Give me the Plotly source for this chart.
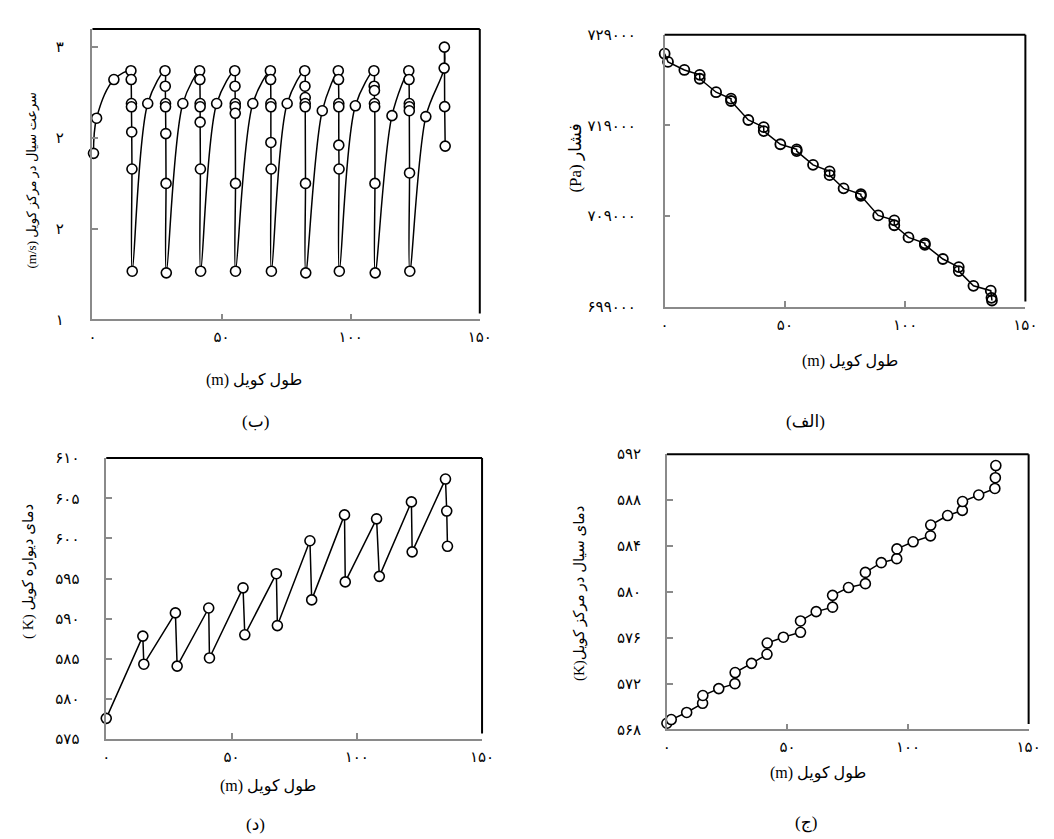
import plotly.graph_objects as go

# ---------------- data ----------------
# (ب) fluid velocity at coil centre (m/s)
vel_x = [0.4, 1.6, 8.3,
         14.9, 15.0, 15.1, 15.1, 15.2, 15.3, 15.4,
         21.4,
         28.1, 28.2, 28.3, 28.3, 28.4, 28.5, 28.6,
         35.0,
         41.5, 41.6, 41.7, 41.7, 41.7, 41.8, 41.9,
         48.1,
         55.1, 55.2, 55.3, 55.3, 55.3, 55.4, 55.4,
         62.1,
         68.9, 69.0, 69.1, 69.1, 69.1, 69.2, 69.3,
         75.4,
         82.2, 82.3, 82.4, 82.4, 82.4, 82.5, 82.6,
         89.0,
         95.2, 95.3, 95.4, 95.4, 95.4, 95.5, 95.6,
         101.8,
         109.0, 109.1, 109.2, 109.2, 109.3, 109.4, 109.5,
         116.0,
         122.5, 122.6, 122.7, 122.7, 122.7, 122.8, 122.9,
         129.1,
         136.2, 136.3, 136.4, 136.6]
vel_y = [2.22, 2.478, 2.762,
         2.827, 2.762, 2.586, 2.562, 2.377, 2.105, 1.354,
         2.586,
         2.827, 2.713, 2.586, 2.562, 2.365, 1.999, 1.342,
         2.586,
         2.827, 2.762, 2.586, 2.562, 2.449, 2.105, 1.354,
         2.586,
         2.827, 2.713, 2.586, 2.562, 2.514, 1.999, 1.354,
         2.586,
         2.827, 2.762, 2.586, 2.562, 2.300, 2.105, 1.354,
         2.586,
         2.827, 2.713, 2.630, 2.586, 2.562, 1.999, 1.342,
         2.533,
         2.827, 2.762, 2.586, 2.562, 2.280, 2.105, 1.354,
         2.569,
         2.827, 2.713, 2.682, 2.586, 2.562, 1.999, 1.342,
         2.497,
         2.827, 2.762, 2.586, 2.562, 2.533, 2.076, 1.354,
         2.490,
         2.846, 3.000, 2.563, 2.273]

# (الف) pressure (Pa)
pres_x = [0.0, 1.4, 8.2, 14.6, 14.6, 21.4, 27.6, 27.6, 34.8, 41.2, 41.2,
          48.1, 54.9, 54.9, 61.7, 68.6, 68.6, 74.4, 81.6, 81.6, 88.8,
          95.5, 95.5, 101.4, 108.2, 108.2, 115.7, 122.3, 122.3, 128.4,
          135.6, 135.9, 136.1]
pres_y = [726900, 726000, 725110, 724570, 724140, 722660, 721945, 721690,
          719600, 718810, 718380, 716930, 716360, 716180, 714660, 713950,
          713520, 712070, 711420, 711250, 709090, 708550, 708010, 706670,
          706020, 705850, 704290, 703400, 702960, 701340, 700800, 700015,
          699720]

# (د) coil wall temperature (K)
wall_x = [0.0, 14.6, 15.0, 27.6, 28.3, 40.9, 41.2, 54.6, 55.3, 67.9, 68.3,
          81.3, 82.0, 95.1, 95.4, 107.9, 109.0, 121.8, 122.1, 135.4, 135.9,
          136.2]
wall_y = [577.6, 587.84, 584.34, 590.73, 584.10, 591.34, 585.12, 593.85,
          588.0, 595.61, 589.15, 599.71, 592.35, 602.93, 594.59, 602.44,
          595.28, 604.55, 598.33, 607.39, 603.41, 599.02]

# (ج) fluid temperature at coil centre (K)
temp_x = [0.0, 1.8, 8.2, 14.8, 14.9, 21.5, 28.2, 28.3, 35.1, 41.5, 41.6,
          48.3, 55.4, 55.4, 61.9, 68.7, 68.7, 75.3, 82.3, 82.3, 88.9,
          95.3, 95.4, 102.1, 109.3, 109.4, 116.4, 122.5, 122.6, 129.3,
          136.0, 136.2, 136.4]
temp_y = [568.54, 568.86, 569.48, 570.28, 570.96, 571.56, 571.99, 572.96,
          573.76, 574.55, 575.53, 576.04, 576.47, 577.46, 578.27, 578.66,
          579.69, 580.37, 580.71, 581.69, 582.54, 582.89, 583.74, 584.36,
          584.88, 585.82, 586.65, 587.10, 587.87, 588.44, 589.01, 589.95,
          591.01]

x_tickvals = [0, 50, 100, 150]
x_ticktext = ['۰', '۵۰', '۱۰۰', '۱۵۰']
vel_tickvals = [1, 5 / 3, 7 / 3, 3]
vel_ticktext = ['۱', '۲', '۲', '۳']
pres_tickvals = [699000, 709000, 719000, 729000]
pres_ticktext = ['۶۹۹۰۰۰', '۷۰۹۰۰۰', '۷۱۹۰۰۰', '۷۲۹۰۰۰']
wall_tickvals = [575, 580, 585, 590, 595, 600, 605, 610]
wall_ticktext = ['۵۷۵', '۵۸۰', '۵۸۵', '۵۹۰', '۵۹۵', '۶۰۰', '۶۰۵', '۶۱۰']
temp_tickvals = [568, 572, 576, 580, 584, 588, 592]
temp_ticktext = ['۵۶۸', '۵۷۲', '۵۷۶', '۵۸۰', '۵۸۴', '۵۸۸', '۵۹۲']

x_title = 'طول کویل (m)'
vel_title = 'سرعت سیال در مرکز کویل (m/s)'
pres_title = 'فشار (Pa)'
wall_title = 'دمای دیواره کویل (K )'
temp_title = 'دمای سیال در مرکز کویل(K)'
captions = ['(ب)', '(الف)', '(د)', '(ج)']

# ---------------- figure ----------------
W, H = 1054, 839
FONT = 'Liberation Serif, DejaVu Sans, serif'
RLE, PDF = '\u202B', '\u202C'

def px(x):
    return x / W

def py(y):
    return 1 - y / H

fig = go.Figure()

filled = dict(symbol='circle', size=10, color='white',
              line=dict(color='black', width=1.6))

fig.add_trace(go.Scatter(x=vel_x, y=vel_y, mode='lines+markers',
                         line=dict(color='black', width=1.5, shape='spline', smoothing=1.0),
                         marker=filled, xaxis='x', yaxis='y', cliponaxis=False,
                         showlegend=False))
fig.add_trace(go.Scatter(x=pres_x, y=pres_y, mode='lines+markers',
                         line=dict(color='black', width=1.5),
                         marker=dict(symbol='circle-open', size=10, color='black',
                                     line=dict(width=1.8)),
                         xaxis='x2', yaxis='y2', cliponaxis=False, showlegend=False))
fig.add_trace(go.Scatter(x=wall_x, y=wall_y, mode='lines+markers',
                         line=dict(color='black', width=1.5),
                         marker=filled, xaxis='x3', yaxis='y3', cliponaxis=False,
                         showlegend=False))
fig.add_trace(go.Scatter(x=temp_x, y=temp_y, mode='lines+markers',
                         line=dict(color='black', width=1.5),
                         marker=filled, xaxis='x4', yaxis='y4', cliponaxis=False,
                         showlegend=False))

GRAY = '#8a8a8a'
TICKFONT = dict(family=FONT, size=15, color='black')

def xax(dom, anchor):
    return dict(domain=dom, anchor=anchor, range=[0, 150], tickvals=x_tickvals,
                ticktext=x_ticktext, showgrid=False, zeroline=False, showline=True,
                linecolor=GRAY, linewidth=1.5, ticks='inside', ticklen=6,
                tickwidth=1.5, tickcolor=GRAY, ticklabelstandoff=3,
                tickfont=TICKFONT)

def yax(dom, anchor, rng, tv, tt, standoff):
    return dict(domain=dom, anchor=anchor, range=rng, tickvals=tv, ticktext=tt,
                showgrid=False, zeroline=False, showline=True, linecolor=GRAY,
                linewidth=1.5, ticks='inside', ticklen=6, tickwidth=1.5,
                tickcolor=GRAY, ticklabelstandoff=standoff,
                tickfont=TICKFONT)

doms = {
    'b': ([px(81.7), px(475)], [py(309.3), py(13.3)]),
    'a': ([px(662.7), px(1029)], [py(296.7), py(19)]),
    'd': ([px(95.7), px(477.3)], [py(737.3), py(450.7)]),
    'j': ([px(665), px(1032.3)], [py(727.3), py(446.7)]),
}

fig.update_layout(
    width=W, height=H, margin=dict(l=0, r=0, t=0, b=0),
    paper_bgcolor='white', plot_bgcolor='white',
    xaxis=xax(doms['b'][0], 'y'),
    yaxis=yax(doms['b'][1], 'x', [1, 3.133], vel_tickvals, vel_ticktext, 24),
    xaxis2=xax(doms['a'][0], 'y2'),
    yaxis2=yax(doms['a'][1], 'x2', [699000, 729000], pres_tickvals, pres_ticktext, 24),
    xaxis3=xax(doms['d'][0], 'y3'),
    yaxis3=yax(doms['d'][1], 'x3', [575, 610], wall_tickvals, wall_ticktext, 22),
    xaxis4=xax(doms['j'][0], 'y4'),
    yaxis4=yax(doms['j'][1], 'x4', [568, 592], temp_tickvals, temp_ticktext, 21),
)

# black top / right frame lines
shapes = []
for xa, ya in [('x', 'y'), ('x2', 'y2'), ('x3', 'y3'), ('x4', 'y4')]:
    shapes.append(dict(type='line', xref=xa + ' domain', yref=ya + ' domain',
                       x0=0, x1=1, y0=1, y1=1, line=dict(color='black', width=2)))
    shapes.append(dict(type='line', xref=xa + ' domain', yref=ya + ' domain',
                       x0=1, x1=1, y0=0.02, y1=1, line=dict(color='black', width=2)))
fig.update_layout(shapes=shapes)

ann = []

def add_text(text, x, y, angle=0, size=14):
    ann.append(dict(text=RLE + text + PDF, x=px(x), y=py(y), xref='paper', yref='paper',
                    showarrow=False, textangle=angle, xanchor='center', yanchor='middle',
                    font=dict(family=FONT, size=size, color='black')))

add_text(x_title, 246, 371.5, size=16)
add_text(x_title, 851, 352, size=16)
add_text(x_title, 260, 785, size=16)
add_text(x_title, 818, 772, size=16)
add_text(vel_title, 20, 168, -90, size=13)
add_text(pres_title, 572, 145, -90, size=17)
add_text(wall_title, 16, 566, -90, size=15)
add_text(temp_title, 577, 588, -90, size=15)
add_text(captions[0], 247, 413, size=17)
add_text(captions[1], 806, 413, size=17)
add_text(captions[2], 247, 824, size=17)
add_text(captions[3], 806, 823, size=17)
fig.update_layout(annotations=ann)

fig.write_html('out.html')
